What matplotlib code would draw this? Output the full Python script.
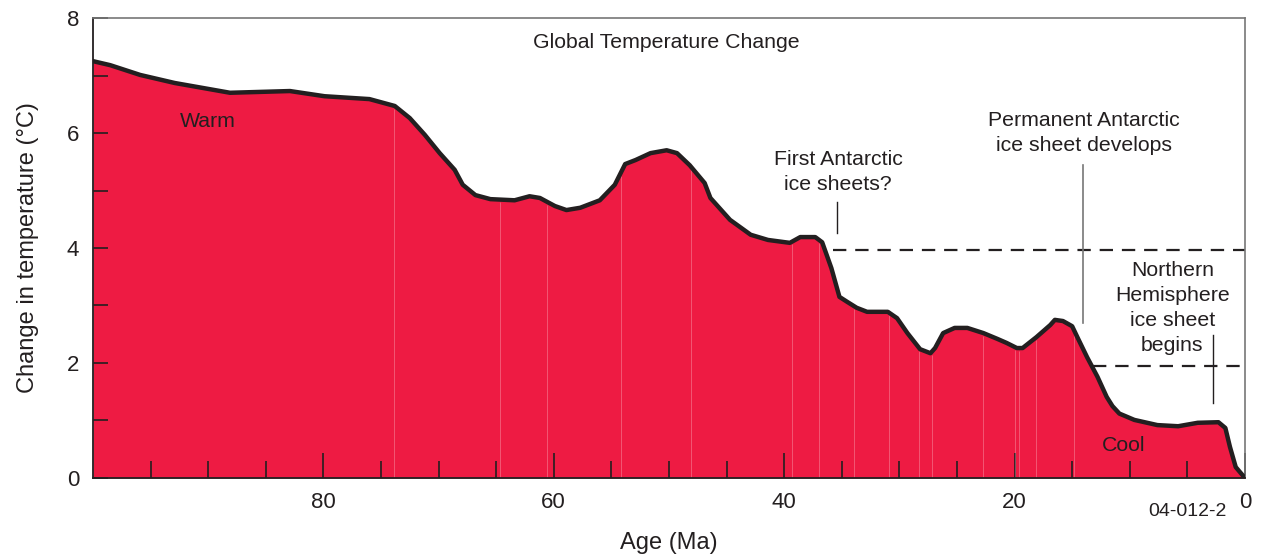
import numpy as np
import matplotlib.pyplot as plt

plt.rcParams['font.family'] = ['Liberation Sans', 'DejaVu Sans']

# age (Ma) and temperature change (deg C)
age = [100, 98.5, 95.9, 92.9, 88.1, 82.9, 79.9, 76.0, 73.8, 72.5, 71.2, 69.9,
       68.6, 67.9, 66.8, 65.5, 63.4, 62.1, 61.2, 59.9, 58.9, 57.7, 56.0, 54.7,
       53.8, 52.9, 51.6, 50.2, 49.3, 48.2, 46.9, 46.4, 44.7, 42.9, 41.4, 39.9,
       39.5, 38.6, 37.3, 36.7, 35.9, 35.2, 34.5, 33.7, 32.8, 31.0, 30.2, 29.3,
       28.2, 27.3, 26.9, 26.2, 25.2, 24.1, 22.7, 21.5, 20.7, 19.8, 19.3, 18.1,
       16.9, 16.5, 15.8, 15.0, 14.5, 13.7, 12.8, 12.0, 11.5, 10.9, 9.6, 7.6,
       5.8, 4.1, 2.3, 1.7, 1.3, 0.8, 0]
temp = [7.25, 7.18, 7.01, 6.87, 6.70, 6.73, 6.64, 6.59, 6.47, 6.26, 5.97, 5.65,
        5.36, 5.10, 4.92, 4.85, 4.83, 4.90, 4.87, 4.73, 4.66, 4.70, 4.83, 5.10,
        5.46, 5.53, 5.65, 5.70, 5.65, 5.44, 5.13, 4.87, 4.49, 4.23, 4.14, 4.10,
        4.09, 4.19, 4.19, 4.10, 3.65, 3.15, 3.06, 2.96, 2.89, 2.89, 2.78, 2.52,
        2.24, 2.17, 2.26, 2.52, 2.61, 2.61, 2.52, 2.42, 2.35, 2.26, 2.26, 2.45,
        2.66, 2.75, 2.73, 2.64, 2.43, 2.10, 1.76, 1.41, 1.25, 1.12, 1.01, 0.92,
        0.90, 0.96, 0.97, 0.87, 0.54, 0.19, 0]

# faint seams in the original fill
seams = [73.9, 64.7, 60.6, 54.2, 48.1, 39.3, 37.0, 33.9, 30.9, 28.3, 27.2,
         22.7, 20.0, 19.6, 18.1, 14.8]

fig = plt.figure(figsize=(12.63, 5.58), dpi=100)
ax = fig.add_axes([0.0736, 0.1434, 0.9121, 0.8243])

red = '#EE1B43'
ax.fill_between(age, temp, 0, color=red, lw=0, zorder=1)
seam_top = np.interp(seams, age[::-1], temp[::-1])
ax.vlines(seams, 0, seam_top - 0.05, color='white', lw=0.6, alpha=0.3, zorder=2)
ax.plot(age, temp, color='#231F20', lw=3.2, solid_capstyle='round',
        solid_joinstyle='round', zorder=3)

# threshold dashes and pointer lines
ax.plot([35.8, 0], [3.97, 3.97], color='#231F20', lw=1.6, ls=(0, (6, 4)))
ax.plot([13.2, 0], [1.95, 1.95], color='#231F20', lw=1.6, ls=(0, (6, 4)))
ax.plot([35.4, 35.4], [4.26, 4.80], color='#231F20', lw=1.0)
ax.plot([14.1, 14.1], [2.70, 5.44], color='#777777', lw=1.2)
ax.plot([2.8, 2.8], [1.30, 2.49], color='#231F20', lw=1.0)

tc = '#231F20'
ax.text(50.2, 7.58, 'Global Temperature Change', ha='center', va='center', fontsize=15.3, color=tc)
ax.text(90.0, 6.2, 'Warm', ha='center', va='center', fontsize=15.3, color=tc)
ax.text(10.5, 0.57, 'Cool', ha='center', va='center', fontsize=15.3, color=tc)
ax.text(35.3, 5.32, 'First Antarctic\nice sheets?', ha='center', va='center',
        fontsize=15.3, color=tc, linespacing=1.42)
ax.text(14.0, 6.0, 'Permanent Antarctic\nice sheet develops', ha='center', va='center',
        fontsize=15.3, color=tc, linespacing=1.38)
ax.text(6.3, 2.96, 'Northern\nHemisphere\nice sheet\nbegins', ha='center', va='center',
        fontsize=15.3, color=tc, linespacing=1.4)
ax.text(5.0, -0.58, '04-012-2', ha='center', va='center', fontsize=14, color=tc)

ax.set_xlim(100, 0)
ax.set_ylim(0, 8)
ax.set_xticks([80, 60, 40, 20, 0])
ax.set_xticks(np.arange(95, 0, -5), minor=True)
ax.set_yticks([0, 2, 4, 6, 8])
ax.set_yticks([1, 3, 5, 7], minor=True)
ax.tick_params(axis='x', which='major', direction='in', length=18, width=1.2,
               labelsize=16, pad=10, colors=tc)
ax.tick_params(axis='x', which='minor', direction='in', length=12, width=1.2, colors=tc)
ax.tick_params(axis='y', which='both', direction='in', length=11, width=1.2,
               labelsize=16, pad=10, colors=tc)
ax.set_xlabel('Age (Ma)', fontsize=17, color=tc, labelpad=14)
ax.set_ylabel('Change in temperature (\u00b0C)', fontsize=17, color=tc, labelpad=20)

for side in ['left', 'bottom']:
    ax.spines[side].set_color(tc)
    ax.spines[side].set_linewidth(1.3)
for side in ['top', 'right']:
    ax.spines[side].set_color('#777777')
    ax.spines[side].set_linewidth(1.2)

fig.savefig('out.png', dpi=100)
